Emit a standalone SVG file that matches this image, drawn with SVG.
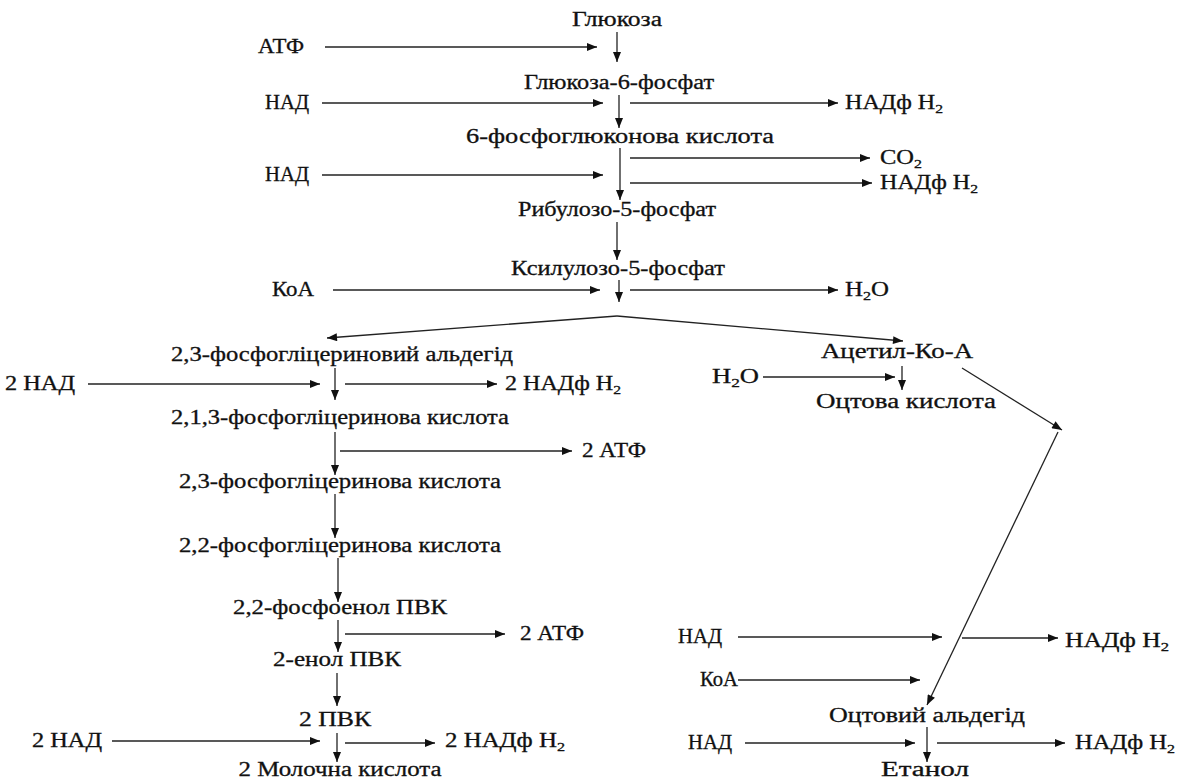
<svg xmlns="http://www.w3.org/2000/svg" width="1197" height="780" viewBox="0 0 1197 780">
<style>
text{font-family:"Liberation Serif","Times New Roman",serif;font-size:20px;fill:#111;stroke:#111;stroke-width:0.3}
.c{text-anchor:middle}
.s{font-size:13px}
#connectors line{stroke:#222;stroke-width:1.3;fill:none;marker-end:url(#ah)}
</style>
<defs>
<marker id="ah" viewBox="0 0 10 8" refX="10" refY="4" markerWidth="11" markerHeight="8" orient="auto" markerUnits="userSpaceOnUse"><path d="M0,0 L10,4 L0,8 z" fill="#111"/></marker>
</defs>
<rect width="1197" height="780" fill="#fff"/>
<g id="connectors">
<line x1="617" y1="32" x2="617" y2="62"/>
<line x1="325" y1="47" x2="597" y2="47"/>
<line x1="619" y1="95" x2="619" y2="128"/>
<line x1="322" y1="103" x2="603" y2="103"/>
<line x1="630" y1="103" x2="838" y2="103"/>
<line x1="620" y1="148" x2="620" y2="200"/>
<line x1="630" y1="158" x2="870" y2="158"/>
<line x1="322" y1="175" x2="603" y2="175"/>
<line x1="630" y1="183" x2="872" y2="183"/>
<line x1="617" y1="222" x2="617" y2="260"/>
<line x1="619" y1="280" x2="619" y2="302"/>
<line x1="333" y1="290" x2="600" y2="290"/>
<line x1="630" y1="290" x2="838" y2="290"/>
<line x1="617" y1="316" x2="327" y2="338"/>
<line x1="617" y1="316" x2="903" y2="341"/>
<line x1="335" y1="368" x2="335" y2="400"/>
<line x1="88" y1="384" x2="320" y2="384"/>
<line x1="345" y1="384" x2="497" y2="384"/>
<line x1="335" y1="432" x2="335" y2="475"/>
<line x1="340" y1="451" x2="572" y2="451"/>
<line x1="335" y1="494" x2="335" y2="538"/>
<line x1="338" y1="558" x2="338" y2="602"/>
<line x1="338" y1="620" x2="338" y2="652"/>
<line x1="345" y1="634" x2="505" y2="634"/>
<line x1="337" y1="673" x2="337" y2="706"/>
<line x1="112" y1="741" x2="320" y2="741"/>
<line x1="345" y1="743" x2="435" y2="743"/>
<line x1="337" y1="733" x2="337" y2="762"/>
<line x1="902" y1="366" x2="902" y2="390"/>
<line x1="763" y1="377" x2="895" y2="377"/>
<line x1="962" y1="368" x2="1062" y2="430"/>
<line x1="1058" y1="432" x2="927" y2="705"/>
<line x1="738" y1="637" x2="942" y2="637"/>
<line x1="962" y1="638" x2="1058" y2="638"/>
<line x1="738" y1="680" x2="920" y2="680"/>
<line x1="927" y1="727" x2="927" y2="762"/>
<line x1="745" y1="743" x2="915" y2="743"/>
<line x1="937" y1="743" x2="1065" y2="743"/>
</g>
<g id="glucose"><text class="c" x="617" y="26" textLength="90" lengthAdjust="spacingAndGlyphs">Глюкоза</text></g>
<g id="g6p"><text class="c" x="619" y="89" textLength="190" lengthAdjust="spacingAndGlyphs">Глюкоза-6-фосфат</text></g>
<g id="pg6"><text class="c" x="620" y="143" textLength="308" lengthAdjust="spacingAndGlyphs">6-фосфоглюконова кислота</text></g>
<g id="ribulose"><text class="c" x="617" y="216" textLength="198" lengthAdjust="spacingAndGlyphs">Рибулозо-5-фосфат</text></g>
<g id="xylulose"><text class="c" x="618" y="275" textLength="214" lengthAdjust="spacingAndGlyphs">Ксилулозо-5-фосфат</text></g>
<g id="gald"><text class="c" x="342" y="361" textLength="342" lengthAdjust="spacingAndGlyphs">2,3-фосфогліцериновий альдегід</text></g>
<g id="bpg"><text class="c" x="340" y="424" textLength="338" lengthAdjust="spacingAndGlyphs">2,1,3-фосфогліцеринова кислота</text></g>
<g id="pg3"><text class="c" x="340" y="488" textLength="322" lengthAdjust="spacingAndGlyphs">2,3-фосфогліцеринова кислота</text></g>
<g id="pg2"><text class="c" x="340" y="552" textLength="322" lengthAdjust="spacingAndGlyphs">2,2-фосфогліцеринова кислота</text></g>
<g id="pep"><text class="c" x="340" y="614" textLength="214" lengthAdjust="spacingAndGlyphs">2,2-фосфоенол ПВК</text></g>
<g id="enol"><text class="c" x="337" y="666" textLength="128" lengthAdjust="spacingAndGlyphs">2-енол ПВК</text></g>
<g id="pvk"><text class="c" x="335" y="726" textLength="72" lengthAdjust="spacingAndGlyphs">2 ПВК</text></g>
<g id="lactic"><text class="c" x="340" y="776" textLength="203" lengthAdjust="spacingAndGlyphs">2 Молочна кислота</text></g>
<g id="acetylcoa"><text class="c" x="897" y="358" textLength="152" lengthAdjust="spacingAndGlyphs">Ацетил-Ко-А</text></g>
<g id="acetic"><text class="c" x="906" y="408" textLength="180" lengthAdjust="spacingAndGlyphs">Оцтова кислота</text></g>
<g id="acetald"><text class="c" x="927" y="722" textLength="196" lengthAdjust="spacingAndGlyphs">Оцтовий альдегід</text></g>
<g id="ethanol"><text class="c" x="925" y="776" textLength="88" lengthAdjust="spacingAndGlyphs">Етанол</text></g>
<g id="side-labels">
<text x="258" y="53" textLength="46" lengthAdjust="spacingAndGlyphs">АТФ</text>
<text x="265" y="109" textLength="44" lengthAdjust="spacingAndGlyphs">НАД</text>
<text x="845" y="109" textLength="98" lengthAdjust="spacingAndGlyphs">НАДф H<tspan class="s" dy="4">2</tspan></text>
<text x="880" y="164" textLength="42" lengthAdjust="spacingAndGlyphs">CO<tspan class="s" dy="4">2</tspan></text>
<text x="265" y="181" textLength="44" lengthAdjust="spacingAndGlyphs">НАД</text>
<text x="880" y="189" textLength="98" lengthAdjust="spacingAndGlyphs">НАДф H<tspan class="s" dy="4">2</tspan></text>
<text x="272" y="296" textLength="42" lengthAdjust="spacingAndGlyphs">КоА</text>
<text x="845" y="296" textLength="44" lengthAdjust="spacingAndGlyphs">H<tspan class="s" dy="4">2</tspan><tspan dy="-4">O</tspan></text>
<text x="5" y="390" textLength="70" lengthAdjust="spacingAndGlyphs">2 НАД</text>
<text x="505" y="390" textLength="116" lengthAdjust="spacingAndGlyphs">2 НАДф H<tspan class="s" dy="4">2</tspan></text>
<text x="712" y="383" textLength="47" lengthAdjust="spacingAndGlyphs">H<tspan class="s" dy="4">2</tspan><tspan dy="-4">O</tspan></text>
<text x="582" y="457" textLength="64" lengthAdjust="spacingAndGlyphs">2 АТФ</text>
<text x="520" y="640" textLength="64" lengthAdjust="spacingAndGlyphs">2 АТФ</text>
<text x="678" y="643" textLength="44" lengthAdjust="spacingAndGlyphs">НАД</text>
<text x="1065" y="647" textLength="104" lengthAdjust="spacingAndGlyphs">НАДф H<tspan class="s" dy="4">2</tspan></text>
<text x="700" y="686" textLength="38" lengthAdjust="spacingAndGlyphs">КоА</text>
<text x="32" y="747" textLength="70" lengthAdjust="spacingAndGlyphs">2 НАД</text>
<text x="445" y="747" textLength="120" lengthAdjust="spacingAndGlyphs">2 НАДф H<tspan class="s" dy="4">2</tspan></text>
<text x="688" y="749" textLength="44" lengthAdjust="spacingAndGlyphs">НАД</text>
<text x="1075" y="749" textLength="100" lengthAdjust="spacingAndGlyphs">НАДф H<tspan class="s" dy="4">2</tspan></text>
</g>
</svg>
